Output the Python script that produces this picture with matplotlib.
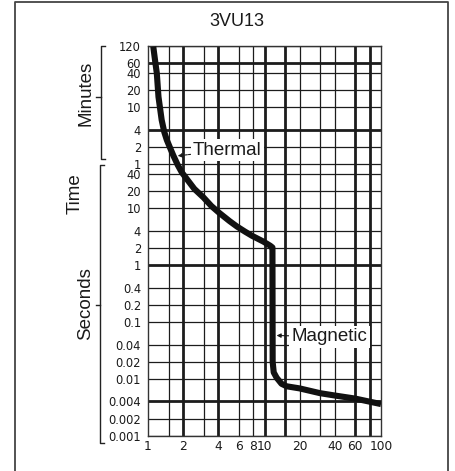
import matplotlib
matplotlib.use("Agg")
import matplotlib.pyplot as plt
from matplotlib.lines import Line2D

plt.rcParams['font.family'] = ['Liberation Sans', 'DejaVu Sans']

# ---- data ----
current_multiple = [1.11, 1.16, 1.19, 1.23, 1.31, 1.38, 1.45, 1.55, 1.65, 1.8, 1.95, 2.15,
                    2.5, 3.0, 3.5, 4.1, 5.0, 5.8, 6.8, 7.8, 9.8, 11.2, 11.7,
                    11.75, 12.0, 12.7, 14.0, 15.5, 20, 30, 40, 60, 100]
trip_time_s = [7000, 3500, 2400, 920, 360, 220, 160, 115, 85, 58, 43, 33,
               22, 15.5, 11, 8.3, 6.0, 4.8, 3.9, 3.3, 2.6, 2.2, 2.05,
               0.02, 0.013, 0.0105, 0.0082, 0.0074, 0.0068, 0.0056, 0.0051, 0.0045, 0.0036]

y_tick_values = [7200, 3600, 2400, 1200, 600, 240, 120, 60, 40, 20, 10, 4, 2, 1,
                 0.4, 0.2, 0.1, 0.04, 0.02, 0.01, 0.004, 0.002, 0.001]
y_tick_labels = ['120', '60', '40', '20', '10', '4', '2', '1', '40', '20', '10', '4', '2', '1',
                 '0.4', '0.2', '0.1', '0.04', '0.02', '0.01', '0.004', '0.002', '0.001']
y_thick = [3600, 240, 1, 0.004]

x_tick_values = [1, 2, 4, 6, 8, 10, 20, 40, 60, 100]
x_tick_labels = ['1', '2', '4', '6', '8', '10', '20', '40', '60', '100']
x_grid_thin = [1.5, 3, 6, 8, 20, 30, 40]
x_grid_thick = [2, 4, 10, 15, 60, 80]

title = '3VU13'

W, H = 455, 471
fig = plt.figure(figsize=(W / 100, H / 100), dpi=100)

L, R, T, B = 148, 381, 46, 435.7
ax = fig.add_axes([L / W, 1 - B / H, (R - L) / W, (B - T) / H])
ax.set_xscale('log')
ax.set_yscale('log')
ax.set_xlim(1, 100)
ax.set_ylim(0.001, 7200)

gc = '#1c1c1c'
for v in x_grid_thin:
    ax.axvline(v, color=gc, lw=0.9, zorder=1)
for v in x_grid_thick:
    ax.axvline(v, color=gc, lw=2.0, zorder=1)
for v in y_tick_values:
    if v in y_thick:
        ax.axhline(v, color=gc, lw=2.0, zorder=1)
    else:
        ax.axhline(v, color=gc, lw=0.9, zorder=1)

ax.plot(current_multiple, trip_time_s, color='#111111', lw=4.4,
        solid_joinstyle='round', solid_capstyle='butt', zorder=3)

ax.set_yticks(y_tick_values)
ax.set_yticklabels(y_tick_labels)
ax.set_xticks(x_tick_values)
ax.set_xticklabels(x_tick_labels)
ax.minorticks_off()
ax.tick_params(length=0, colors='#1a1a1a')
ax.tick_params(axis='y', labelsize=8.3, pad=5)
ax.tick_params(axis='x', labelsize=8.8, pad=3)
for lab in ax.get_yticklabels() + ax.get_xticklabels():
    lab.set_family('DejaVu Sans')
for s in ax.spines.values():
    s.set_linewidth(1.0)
    s.set_color('#333333')

bbox = dict(boxstyle='square,pad=0.12', fc='white', ec='none')
ax.annotate('Thermal', xy=(1.8, 84), xytext=(2.43, 106), fontsize=13.5,
            va='center', ha='left', color='#1a1a1a', bbox=bbox,
            arrowprops=dict(arrowstyle='-|>', color='#1a1a1a', lw=0.8,
                            linestyle=(0, (2, 1)), mutation_scale=6, shrinkA=0, shrinkB=0),
            zorder=5)
ax.annotate('Magnetic', xy=(12.7, 0.058), xytext=(17.1, 0.055), fontsize=13.5,
            va='center', ha='left', color='#1a1a1a', bbox=bbox,
            arrowprops=dict(arrowstyle='-|>', color='#1a1a1a', lw=0.8,
                            mutation_scale=6, shrinkA=0, shrinkB=0),
            zorder=5)

# overlay in pixel coordinates for frame, brackets and side labels
ov = fig.add_axes([0, 0, 1, 1], facecolor='none')
ov.set_xlim(0, W)
ov.set_ylim(H, 0)
ov.axis('off')

fc = '#444444'
ov.add_line(Line2D([15, 15, 448, 448], [H + 5, 2, 2, H + 5], color=fc, lw=1.3))

bc = '#222222'
# minutes bracket
ov.add_line(Line2D([105, 101, 101, 105], [46, 46, 159, 159], color=bc, lw=1.0))
ov.add_line(Line2D([96, 101], [96.7, 96.7], color=bc, lw=1.0))
# seconds bracket
ov.add_line(Line2D([104, 100, 100, 104], [165, 165, 443, 443], color=bc, lw=1.0))
ov.add_line(Line2D([96, 100], [305, 305], color=bc, lw=1.0))

ov.text(86, 93, 'Minutes', rotation=90, ha='center', va='center', fontsize=13.5, color='#1a1a1a')
ov.text(75, 194, 'Time', rotation=90, ha='center', va='center', fontsize=13.5, color='#1a1a1a')
ov.text(86, 304, 'Seconds', rotation=90, ha='center', va='center', fontsize=13.5, color='#1a1a1a')
ov.text(237, 22, title, ha='center', va='center', fontsize=13, color='#1a1a1a')

fig.savefig('out.png', dpi=100)
